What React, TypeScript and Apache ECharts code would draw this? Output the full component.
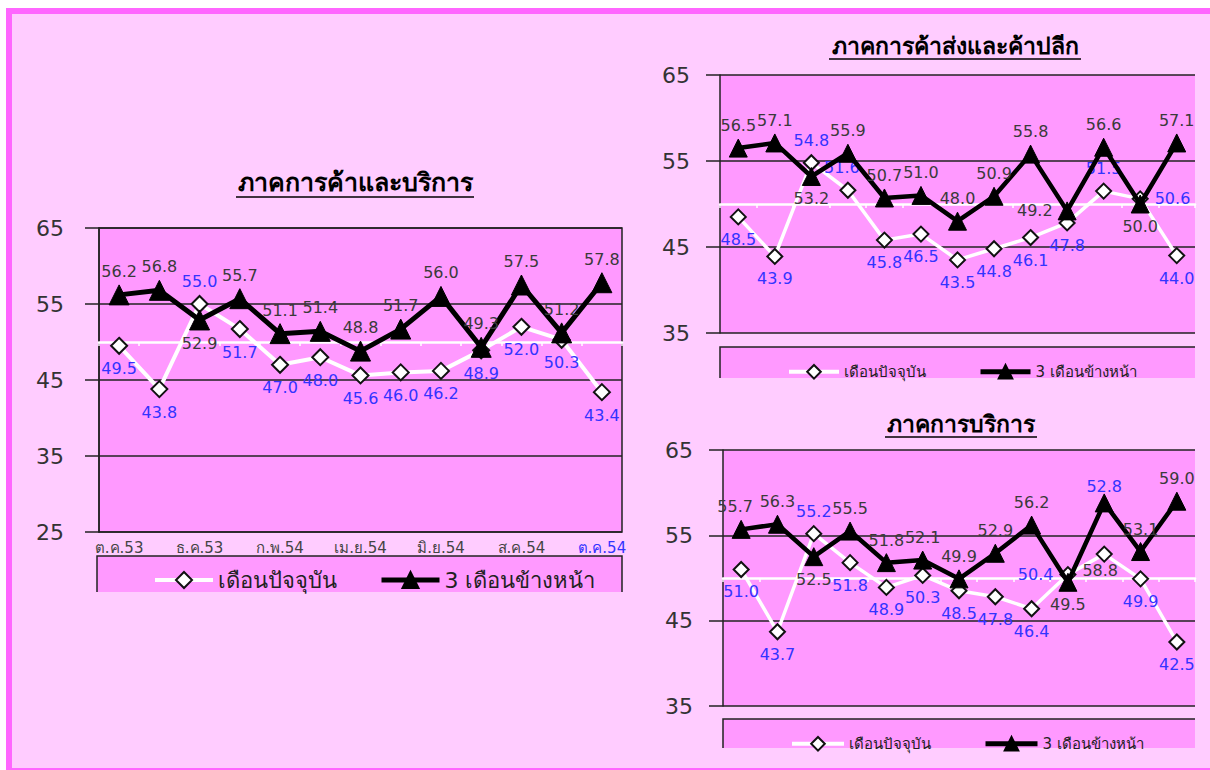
import React, { useEffect, useRef } from "react";
import * as echarts from "echarts";

const categories = ["ต.ค.53", "พ.ย.53", "ธ.ค.53", "ม.ค.54", "ก.พ.54", "มี.ค.54", "เม.ย.54", "พ.ค.54", "มิ.ย.54", "ก.ค.54", "ส.ค.54", "ก.ย.54", "ต.ค.54"];
const seriesNames = ["เดือนปัจจุบัน", "3 เดือนข้างหน้า"];
const titles = ["ภาคการค้าและบริการ", "ภาคการค้าส่งและค้าปลีก", "ภาคการบริการ"];

// ภาคการค้าและบริการ
const tradeServiceCurrent = [49.5, 43.8, 55.0, 51.7, 47.0, 48.0, 45.6, 46.0, 46.2, 48.9, 52.0, 50.3, 43.4];
const tradeServiceAhead = [56.2, 56.8, 52.9, 55.7, 51.1, 51.4, 48.8, 51.7, 56.0, 49.3, 57.5, 51.2, 57.8];
// ภาคการค้าส่งและค้าปลีก
const wholesaleCurrent = [48.5, 43.9, 54.8, 51.6, 45.8, 46.5, 43.5, 44.8, 46.1, 47.8, 51.5, 50.6, 44.0];
const wholesaleAhead = [56.5, 57.1, 53.2, 55.9, 50.7, 51.0, 48.0, 50.9, 55.8, 49.2, 56.6, 50.0, 57.1];
// ภาคการบริการ
const servicesCurrent = [51.0, 43.7, 55.2, 51.8, 48.9, 50.3, 48.5, 47.8, 46.4, 50.4, 52.8, 49.9, 42.5];
const servicesAhead = [55.7, 56.3, 52.5, 55.5, 51.8, 52.1, 49.9, 52.9, 56.2, 49.5, 58.8, 53.1, 59.0];

const yMins = [25, 35, 35];
const yMax = 65;
const yInterval = 10;
const refLine = 50;

// label placement (style only)
const T = "top", B = "bottom", L = "left", R = "right";
const labelPos = [
  { cur: [B, B, T, B, B, B, B, B, B, B, B, B, B], ahd: [T, T, B, T, T, T, T, T, T, T, T, T, T] },
  { cur: [B, B, T, T, B, B, B, B, B, B, T, R, B], ahd: [T, T, B, T, T, T, T, T, T, L, T, B, T] },
  { cur: [B, B, T, B, B, B, B, B, B, L, T, B, B], ahd: [T, T, B, T, T, T, T, T, T, B, B, T, T] },
];
const labelOffsets: Record<string, number[]> = {
  "2-cur-10": [0, -45],
  "2-ahd-10": [-4, 45],
  "1-cur-3": [-6, 0],
  "2-ahd-0": [-6, 0],
};

const FONT = "Tahoma, 'DejaVu Sans', 'Noto Sans', sans-serif";
const BG = "#ffccff";
const PLOT = "#ff99ff";
const FRAME = "#ff66ff";
const BLUE = "#3333ff";
const DARK = "#3a3a3a";

const grids = [
  { left: 99, top: 228, width: 523, height: 304 },
  { left: 720, top: 75, width: 475, height: 258 },
  { left: 723, top: 450, width: 472, height: 256 },
];
const legendBoxes = [
  { x: 97, y: 556, w: 525, h: 36, right: true },
  { x: 720, y: 347, w: 475, h: 31, right: false },
  { x: 723, y: 719, w: 472, h: 29, right: false },
];
const titlePos = [
  { cx: 355, cy: 182, w: 238, uy: 197, size: 25 },
  { cx: 955, cy: 46, w: 252, uy: 59, size: 23 },
  { cx: 961, cy: 424, w: 152, uy: 437, size: 23 },
];
const legendPos = [
  { left: 148, top: 564, size: 22, iw: 58, ih: 20, gap: 42 },
  { left: 782, top: 359, size: 15, iw: 50, ih: 17, gap: 52 },
  { left: 785, top: 731, size: 15, iw: 52, ih: 17, gap: 52 },
];

export default function App() {
  const ref = useRef<HTMLDivElement>(null);
  useEffect(() => {
    if (!ref.current) return;
    const chart = echarts.init(ref.current, null, { renderer: "svg" });
    const dataSets = [
      [tradeServiceCurrent, tradeServiceAhead],
      [wholesaleCurrent, wholesaleAhead],
      [servicesCurrent, servicesAhead],
    ];
    const xAxis: any[] = [];
    const yAxis: any[] = [];
    const series: any[] = [];
    const gridOpts: any[] = [];
    const legends: any[] = [];
    const graphics: any[] = [
      { type: "rect", shape: { x: 6, y: 8, width: 1300, height: 800 }, style: { fill: FRAME }, z: -10 },
      { type: "rect", shape: { x: 12, y: 14, width: 1300, height: 754 }, style: { fill: BG }, z: -9 },
    ];

    dataSets.forEach((ds, i) => {
      const g = grids[i];
      const big = i === 0;
      gridOpts.push({
        left: g.left, top: g.top, width: g.width, height: g.height,
        show: true, backgroundColor: PLOT, borderWidth: big ? 1.5 : 0, borderColor: "#222",
      });
      xAxis.push({
        type: "category", gridIndex: i, data: categories.map((c, k) =>
          k === categories.length - 1 ? { value: c, textStyle: { color: BLUE } } : c),
        boundaryGap: true,
        axisLine: { show: false }, axisTick: { show: false },
        axisLabel: { show: big, interval: 1, fontFamily: FONT, fontSize: 15, color: "#444", margin: 8 },
        splitLine: { show: false },
      });
      const off = -(g.height * (refLine - yMins[i])) / (yMax - yMins[i]);
      xAxis.push({
        type: "category", gridIndex: i, data: categories, position: "bottom", offset: off,
        boundaryGap: true,
        axisLine: { show: true, lineStyle: { color: "#ffffff", width: 2.5 } },
        axisTick: { show: true, length: 4, interval: 0, lineStyle: { color: "#ffffff", width: 1.5 } },
        axisLabel: { show: false }, splitLine: { show: false },
      });
      yAxis.push({
        type: "value", gridIndex: i, min: yMins[i], max: yMax, interval: yInterval,
        axisLine: { show: true, lineStyle: { color: "#222", width: 1.5 } },
        axisTick: { show: true, length: 14, lineStyle: { color: "#222", width: 1.5 } },
        axisLabel: { fontFamily: FONT, fontSize: 22, color: "#333", margin: big ? 35 : 30 },
        splitLine: { show: true, lineStyle: { color: "#222", width: 1.5 } },
      });
      const mk = (vals: number[], kind: "cur" | "ahd") =>
        vals.map((v, k) => {
          const key = `${i}-${kind}-${k}`;
          const lbl: any = { position: labelPos[i][kind][k] };
          if (labelOffsets[key]) lbl.offset = labelOffsets[key];
          return { value: v, label: lbl };
        });
      series.push({
        type: "line", name: seriesNames[0], xAxisIndex: 2 * i, yAxisIndex: i,
        data: mk(ds[0], "cur"),
        symbol: "diamond", symbolSize: big ? 16 : 15,
        lineStyle: { color: "#ffffff", width: big ? 4 : 3.5 },
        itemStyle: { color: "#ffffff", borderColor: "#111", borderWidth: 2 },
        label: {
          show: true, fontFamily: FONT, fontSize: 16, color: BLUE, distance: 6,
          formatter: (p: any) => Number(p.value).toFixed(1),
        },
        z: 3,
      });
      series.push({
        type: "line", name: seriesNames[1], xAxisIndex: 2 * i, yAxisIndex: i,
        data: mk(ds[1], "ahd"),
        symbol: "triangle", symbolSize: big ? 20 : 18,
        lineStyle: { color: "#000000", width: big ? 5 : 4.5 },
        itemStyle: { color: "#000000", borderColor: "#000", borderWidth: 1 },
        label: {
          show: true, fontFamily: FONT, fontSize: 16, color: DARK, distance: 5,
          formatter: (p: any) => Number(p.value).toFixed(1),
        },
        z: 4,
      });
      const lp = legendPos[i];
      legends.push({
        left: lp.left, top: lp.top, orient: "horizontal",
        data: seriesNames, itemWidth: lp.iw, itemHeight: lp.ih, itemGap: lp.gap,
        lineStyle: { width: "inherit" },
        textStyle: { fontFamily: FONT, fontSize: lp.size, color: "#222" },
        selectedMode: false,
      });
      const lb = legendBoxes[i];
      graphics.push({ type: "rect", shape: { x: lb.x, y: lb.y, width: lb.w, height: lb.h }, style: { fill: PLOT }, z: -5 });
      const pts = lb.right
        ? [[lb.x, lb.y + lb.h], [lb.x, lb.y], [lb.x + lb.w, lb.y], [lb.x + lb.w, lb.y + lb.h]]
        : [[lb.x, lb.y + lb.h], [lb.x, lb.y], [lb.x + lb.w, lb.y]];
      graphics.push({ type: "polyline", shape: { points: pts }, style: { stroke: "#222", lineWidth: 1.5, fill: null }, z: -4 });
      const tp = titlePos[i];
      graphics.push({
        type: "text", x: tp.cx, y: tp.cy,
        style: { text: titles[i], fontFamily: FONT, fontSize: tp.size, fontWeight: "bold", fill: "#000", textAlign: "center", textVerticalAlign: "middle" },
      });
      graphics.push({
        type: "line", shape: { x1: tp.cx - tp.w / 2, y1: tp.uy, x2: tp.cx + tp.w / 2, y2: tp.uy },
        style: { stroke: "#000", lineWidth: 1.5 },
      });
    });

    chart.setOption({
      animation: false,
      backgroundColor: "#ffffff",
      grid: gridOpts,
      xAxis, yAxis, series,
      legend: legends,
      graphic: graphics,
    });
    return () => chart.dispose();
  }, []);
  return (
    <div ref={ref} style={{ position: "fixed", left: 0, top: 0, width: 1210, height: 770 }} />
  );
}
